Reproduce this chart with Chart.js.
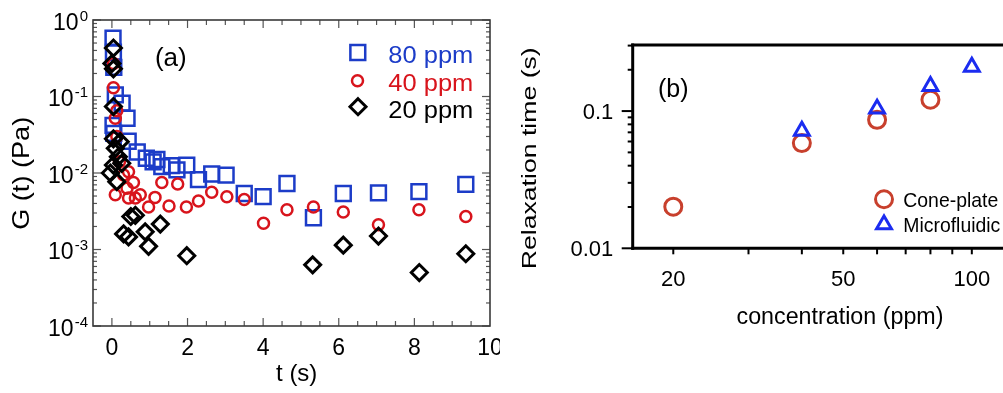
<!DOCTYPE html>
<html><head><meta charset="utf-8">
<script src="https://cdn.jsdelivr.net/npm/chart.js@4/dist/chart.umd.min.js"></script>
<style>
html,body{margin:0;padding:0;background:#fff;overflow:hidden;width:1003px;height:393px;}
#wa{position:absolute;left:0;top:0;width:500px;height:393px;}
#wb{position:absolute;left:500px;top:0;width:503px;height:393px;}
canvas{display:block;}
</style></head><body>
<div id="wa"><canvas id="ca" width="500" height="393"></canvas></div>
<div id="wb"><canvas id="cb" width="503" height="393"></canvas></div>
<script>
// ---------- Panel (a) data ----------
const t80 = [0.03,0.04,0.05,0.09,0.27,0.40,0.03,0.05,0.43,0.67,0.91,1.09,1.19,1.32,1.57,1.72,1.98,2.29,2.64,3.02,3.50,4.00,4.63,5.33,6.12,7.05,8.12,9.36];
const g80 = [0.58,0.38,0.24,0.105,0.082,0.052,0.042,0.033,0.026,0.0188,0.0156,0.0140,0.0150,0.0121,0.0125,0.0110,0.0127,0.0082,0.0097,0.0094,0.0054,0.0049,0.0073,0.0026,0.0054,0.0055,0.0057,0.0071];
const t40 = [0.04,0.04,0.13,0.09,0.13,0.20,0.31,0.44,0.57,0.40,0.09,0.44,0.62,0.75,0.97,1.14,1.32,1.51,1.74,1.97,2.29,2.64,3.04,3.50,4.01,4.63,5.33,6.12,7.05,8.12,9.36];
const g40 = [0.27,0.13,0.065,0.052,0.030,0.014,0.0094,0.0104,0.0075,0.0063,0.0052,0.0047,0.0047,0.0052,0.0036,0.0048,0.0075,0.0037,0.0072,0.0036,0.0043,0.0056,0.0049,0.0045,0.0022,0.0033,0.0036,0.0031,0.0021,0.0033,0.0027];
const t20 = [0.04,0.00,0.04,0.04,0.04,0.22,0.09,0.17,0.04,0.26,-0.04,0.13,0.50,0.62,0.31,0.44,0.88,0.97,1.28,1.98,5.31,6.12,7.05,8.13,9.36];
const g20 = [0.43,0.27,0.23,0.074,0.028,0.0257,0.021,0.0163,0.0127,0.0134,0.0100,0.0077,0.0027,0.0028,0.0016,0.00146,0.0017,0.0011,0.00215,0.00083,0.00063,0.00114,0.0015,0.00050,0.00088];
const seriesA = ['80 ppm','40 ppm','20 ppm'];
const xTicksA = [0,2,4,6,8,10];
const xMinorA = [0,0.5,1,1.5,2,2.5,3,3.5,4,4.5,5,5.5,6,6.5,7,7.5,8,8.5,9,9.5];
const yDecadesA = [1,0.1,0.01,0.001,0.0001];
const yExpA = ['0','-1','-2','-3','-4'];
const minorMult = [2,3,4,5,6,7,8,9];

// ---------- Panel (b) data ----------
const concCone = [20,40,60,80];
const tauCone = [0.0201,0.0584,0.0863,0.121];
const concMicro = [40,60,80,100];
const tauMicro = [0.0717,0.104,0.152,0.21];
const seriesB = ['Cone-plate','Microfluidic'];
const xTicksB = [20,50,100];
const xMinorB = [20,30,40,50,60,70,80,90,100];
const yTicksB = [0.01,0.1];
const yLabelsB = ['0.01','0.1'];
const yMinorB = [0.02,0.03,0.04,0.05,0.06,0.07,0.08,0.09,0.2,0.3];

const F = '"Liberation Sans", Arial, Helvetica, sans-serif';
const BLUE_A = '#1c3cc8', RED_A = '#d8141c', BLACK = '#000';
const RED_B = '#c8402d', BLUE_B = '#1b2cf0';

const pts = (xs, ys) => xs.map((v, i) => ({x: v, y: ys[i]}));

function fitText(ctx, text, x, y, size, targetW, align, color, rot) {
  ctx.save();
  ctx.font = size + 'px ' + F;
  ctx.fillStyle = color || '#000';
  ctx.textBaseline = 'alphabetic';
  const w = ctx.measureText(text).width;
  const s = targetW ? targetW / w : 1;
  ctx.translate(x, y);
  if (rot) ctx.rotate(rot);
  ctx.scale(s, 1);
  ctx.textAlign = align || 'left';
  ctx.fillText(text, 0, 0);
  ctx.restore();
}

function marker(ctx, style, x, y, r, color, lw) {
  ctx.save();
  ctx.strokeStyle = color; ctx.lineWidth = lw;
  ctx.beginPath();
  if (style === 'rect') {
    const h = Math.SQRT1_2 * r; ctx.rect(x - h, y - h, 2 * h, 2 * h);
  } else if (style === 'circle') {
    ctx.arc(x, y, r, 0, Math.PI * 2);
  } else if (style === 'rectRot') {
    ctx.moveTo(x, y - r); ctx.lineTo(x + r, y); ctx.lineTo(x, y + r); ctx.lineTo(x - r, y); ctx.closePath();
  } else if (style === 'triangle') {
    for (let k = 0; k < 3; k++) {
      const a = k * 2 * Math.PI / 3;
      const px = x + Math.sin(a) * r, py = y - Math.cos(a) * r;
      k ? ctx.lineTo(px, py) : ctx.moveTo(px, py);
    }
    ctx.closePath();
  }
  ctx.stroke();
  ctx.restore();
}

function seg(ctx, x1, y1, x2, y2) { ctx.beginPath(); ctx.moveTo(x1, y1); ctx.lineTo(x2, y2); ctx.stroke(); }

const SQ_R = 10.5, CI_R = 5.5, DI_R = 8;

// ---------- Panel (a) decoration ----------
const decorA = {
  id: 'decorA',
  beforeDatasetsDraw(chart) {
    const {ctx, chartArea: a, scales: {x, y}} = chart;
    ctx.save();
    ctx.strokeStyle = '#555'; ctx.lineWidth = 1.2;
    xMinorA.forEach(v => {
      const px = x.getPixelForValue(v);
      const L = xTicksA.includes(v) ? 8 : 5;
      seg(ctx, px, a.bottom, px, a.bottom - L);
      seg(ctx, px, a.top, px, a.top + L);
    });
    yDecadesA.forEach(d => {
      const py = y.getPixelForValue(d);
      seg(ctx, a.left, py, a.left + 8, py);
      seg(ctx, a.right, py, a.right - 8, py);
      if (d < 1) minorMult.forEach(m => {
        const q = y.getPixelForValue(d * m);
        seg(ctx, a.left, q, a.left + 4, q);
        seg(ctx, a.right, q, a.right - 4, q);
      });
    });
    ctx.strokeStyle = '#3a3a3a'; ctx.lineWidth = 1.6;
    ctx.strokeRect(a.left, a.top, a.right - a.left, a.bottom - a.top);
    ctx.restore();
  },
  afterDraw(chart) {
    const {ctx, scales: {x, y}} = chart;
    ctx.save();
    ctx.fillStyle = '#000';
    yDecadesA.forEach((d, i) => {
      const py = y.getPixelForValue(d);
      ctx.font = '15px ' + F;
      const sw = ctx.measureText(yExpA[i]).width;
      const xs = 88 - sw;
      ctx.textAlign = 'left'; ctx.textBaseline = 'alphabetic';
      ctx.fillText(yExpA[i], xs, py + 0.5);
      ctx.font = '23px ' + F;
      ctx.textAlign = 'right';
      ctx.fillText('10', xs - 1, py + 9.7);
    });
    ctx.font = '23px ' + F; ctx.textAlign = 'center'; ctx.textBaseline = 'alphabetic';
    xTicksA.forEach(v => ctx.fillText(String(v), x.getPixelForValue(v), 355));
    ctx.restore();
    fitText(ctx, 't (s)', 296.7, 381.2, 24, 0, 'center');
    fitText(ctx, 'G (t) (Pa)', 28.7, 173.3, 24, 113, 'center', '#000', -Math.PI / 2);
    fitText(ctx, '(a)', 170.8, 66, 26, 0, 'center');
    marker(ctx, 'rect', 357.8, 52.5, SQ_R, BLUE_A, 2.5);
    marker(ctx, 'circle', 357.5, 80.8, CI_R, RED_A, 2.5);
    marker(ctx, 'rectRot', 358, 106.7, DI_R, BLACK, 3);
    fitText(ctx, seriesA[0], 388.3, 63.1, 24, 85, 'left', BLUE_A);
    fitText(ctx, seriesA[1], 388.3, 90.8, 24, 85, 'left', RED_A);
    fitText(ctx, seriesA[2], 388.3, 117.8, 24, 85, 'left', BLACK);
  }
};

new Chart(document.getElementById('ca'), {
  type: 'scatter',
  data: {datasets: [
    {label: seriesA[2], data: pts(t20, g20), pointStyle: 'rectRot', pointRadius: DI_R, borderColor: BLACK, borderWidth: 3, backgroundColor: 'rgba(0,0,0,0)', order: 0},
    {label: seriesA[1], data: pts(t40, g40), pointStyle: 'circle', pointRadius: CI_R, borderColor: RED_A, borderWidth: 2.5, backgroundColor: 'rgba(0,0,0,0)', order: 1},
    {label: seriesA[0], data: pts(t80, g80), pointStyle: 'rect', pointRadius: SQ_R, borderColor: BLUE_A, borderWidth: 2.5, backgroundColor: 'rgba(0,0,0,0)', order: 2}
  ]},
  options: {
    responsive: false, animation: false, devicePixelRatio: 1, events: [],
    layout: {autoPadding: false, padding: {left: 0, top: 20, right: 10, bottom: 0}},
    plugins: {legend: {display: false}, tooltip: {enabled: false}},
    scales: {
      x: {type: 'linear', min: -0.5, max: 10, grid: {display: false}, border: {display: false},
          ticks: {display: false},
          afterBuildTicks: s => { s.ticks = xTicksA.map(v => ({value: v})); },
          afterFit: s => { s.height = 67; s.paddingLeft = 0; s.paddingRight = 0; }},
      y: {type: 'logarithmic', min: 1e-4, max: 1, grid: {display: false}, border: {display: false},
          ticks: {display: false},
          afterBuildTicks: s => { s.ticks = yDecadesA.map(v => ({value: v})); },
          afterFit: s => { s.width = 93; s.paddingTop = 0; s.paddingBottom = 0; }}
    }
  },
  plugins: [decorA]
});

// ---------- Panel (b) decoration ----------
const decorB = {
  id: 'decorB',
  beforeDatasetsDraw(chart) {
    const {ctx, chartArea: a, scales: {x, y}} = chart;
    ctx.save();
    ctx.strokeStyle = '#000';
    ctx.lineWidth = 2;
    yTicksB.forEach(v => { const py = y.getPixelForValue(v); seg(ctx, a.left - 11, py, a.left, py); });
    yMinorB.forEach(v => { const py = y.getPixelForValue(v); seg(ctx, a.left - 5, py, a.left, py); });
    xMinorB.forEach(v => { const px = x.getPixelForValue(v); seg(ctx, px, a.bottom, px, a.bottom + 6); });
    ctx.lineWidth = 3; ctx.lineCap = 'square';
    seg(ctx, a.left, a.top, a.left, a.bottom);
    seg(ctx, a.left, a.bottom, a.right + 5, a.bottom);
    seg(ctx, a.left, a.top, a.right + 5, a.top);
    ctx.restore();
  },
  afterDraw(chart) {
    const {ctx, scales: {x, y}} = chart;
    ctx.save();
    ctx.fillStyle = '#000'; ctx.font = '22px ' + F; ctx.textBaseline = 'alphabetic';
    ctx.textAlign = 'right';
    yTicksB.forEach((v, i) => ctx.fillText(yLabelsB[i], 113.3, y.getPixelForValue(v) + 8));
    ctx.textAlign = 'center';
    xTicksB.forEach(v => ctx.fillText(String(v), x.getPixelForValue(v), 286.3));
    ctx.restore();
    fitText(ctx, 'concentration (ppm)', 340, 324.3, 23, 207, 'center');
    fitText(ctx, 'Relaxation time (s)', 35.5, 158.3, 21, 222, 'center', '#000', -Math.PI / 2);
    fitText(ctx, '(b)', 173.3, 96.5, 25, 0, 'center');
    marker(ctx, 'circle', 384, 199.2, 8.5, RED_B, 3);
    marker(ctx, 'triangle', 384, 224.5, 8.6, BLUE_B, 3);
    fitText(ctx, seriesB[0], 403.3, 206.7, 21, 95, 'left');
    fitText(ctx, seriesB[1], 403.3, 231.7, 21, 97, 'left');
  }
};

new Chart(document.getElementById('cb'), {
  type: 'scatter',
  data: {datasets: [
    {label: seriesB[1], data: pts(concMicro, tauMicro), pointStyle: 'triangle', pointRadius: 8.6, borderColor: BLUE_B, borderWidth: 3, backgroundColor: 'rgba(0,0,0,0)', order: 0},
    {label: seriesB[0], data: pts(concCone, tauCone), pointStyle: 'circle', pointRadius: 8.5, borderColor: RED_B, borderWidth: 3, backgroundColor: 'rgba(0,0,0,0)', order: 1}
  ]},
  options: {
    responsive: false, animation: false, devicePixelRatio: 1, events: [],
    layout: {autoPadding: false, padding: {left: 0, top: 45, right: 0, bottom: 0}},
    plugins: {legend: {display: false}, tooltip: {enabled: false}},
    scales: {
      x: {type: 'logarithmic', min: 16.07, max: 118.3, grid: {display: false}, border: {display: false},
          ticks: {display: false},
          afterBuildTicks: s => { s.ticks = xTicksB.map(v => ({value: v})); },
          afterFit: s => { s.height = 144.7; s.paddingLeft = 0; s.paddingRight = 0; }},
      y: {type: 'logarithmic', min: 0.01, max: 0.303, grid: {display: false}, border: {display: false},
          ticks: {display: false},
          afterBuildTicks: s => { s.ticks = yTicksB.map(v => ({value: v})); },
          afterFit: s => { s.width = 132.7; s.paddingTop = 0; s.paddingBottom = 0; }}
    }
  },
  plugins: [decorB]
});
</script>
</body></html>
